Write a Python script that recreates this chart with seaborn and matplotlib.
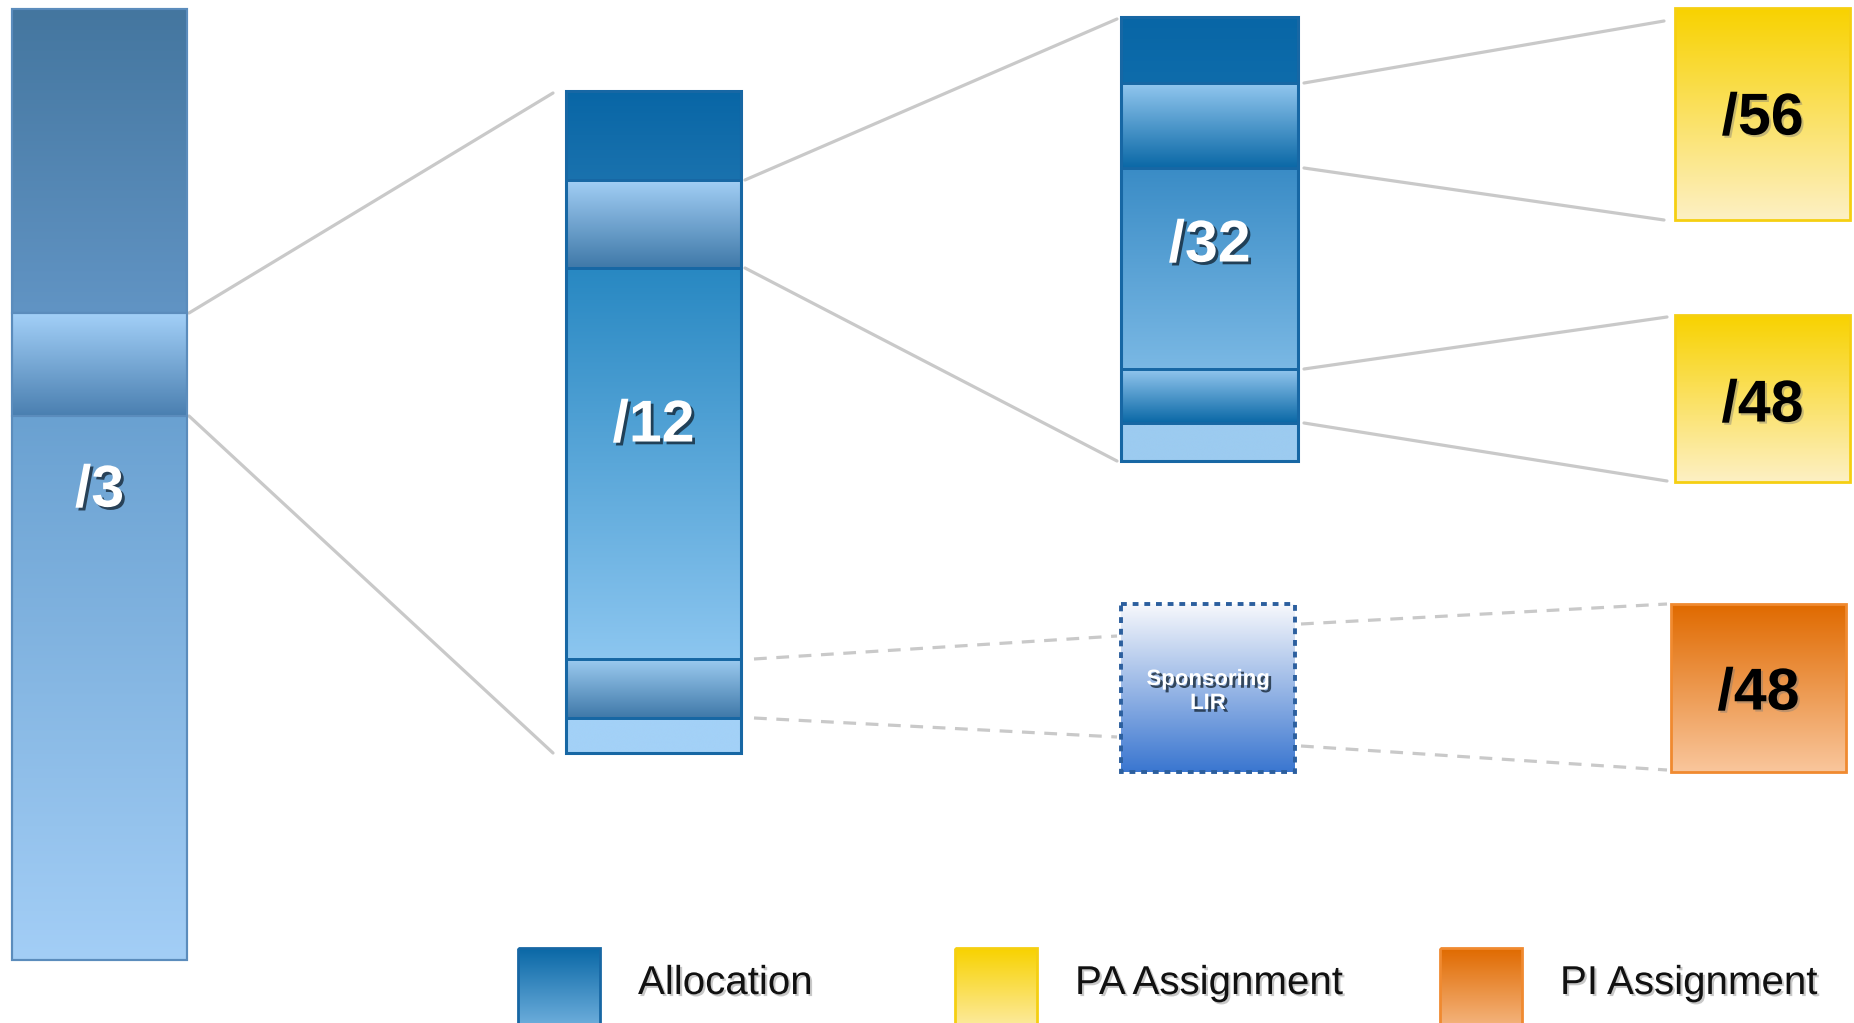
import numpy as np
import pandas as pd
import matplotlib.pyplot as plt
import matplotlib.patheffects as pe
import seaborn as sns
from matplotlib import font_manager
from matplotlib.colors import to_rgb
from matplotlib.patches import Rectangle

# --- diagram content ---
blue_prefixes = ["/3", "/12", "/32"]
pa_prefixes = ["/56", "/48"]
pi_prefixes = ["/48"]
sponsor_label = "Sponsoring\nLIR"
legend_labels = ["Allocation", "PA Assignment", "PI Assignment"]

# --- layout, in pixels of the 1854x1023 canvas ---
W, H = 1854, 1023
col_left = [12, 566, 1121]
col_right = [187, 741, 1298]
col_label_y = [485, 420, 240]
# column segments: (top, bottom, top colour, bottom colour, is_band)
col_segments = [
    [(9, 313, "#44769f", "#6194c4", False),
     (313, 416, "#a3d0f8", "#4a7fb0", True),
     (416, 960, "#6aa1d1", "#a3cef6", False)],
    [(91, 180, "#0866a6", "#1a72ae", False),
     (180, 268, "#a2cff5", "#3f78a8", True),
     (268, 659, "#2888c2", "#8cc6f0", False),
     (659, 718, "#9ccbf0", "#3f78a8", True),
     (718, 753, "#a3d1f7", "#a3d1f7", False)],
    [(17, 83, "#0866a6", "#0e6cab", False),
     (83, 168, "#92c7ef", "#0a68a6", True),
     (168, 369, "#3a8cc6", "#7ab8e4", False),
     (369, 423, "#92c6ee", "#0a68a6", True),
     (423, 461, "#9ccbf0", "#9ccbf0", False)],
]
pa_boxes = [(1675, 8, 1850, 220), (1675, 315, 1850, 482)]
pa_label_y = [113, 400]
pi_boxes = [(1671, 604, 1846, 772)]
pi_label_y = [688]
lir_box = (1121, 604, 1295, 772)
lir_baselines = [685, 709]
legend_x = [518, 955, 1440]
legend_box = (82, 948, 1045)

blue_grad = ("#0a68a6", "#86bfe9")
yellow_grad = ("#f8d200", "#fdf0c4")
orange_grad = ("#e06a00", "#f9c69c")
lir_grad = ("#f7f8fc", "#3a76d0")

LABEL_PT = 42.5
CAP_HALF = LABEL_PT * 100 / 72 * 0.729 / 2

fonts = {f.name for f in font_manager.fontManager.ttflist}
narrow = "Liberation Sans Narrow" in fonts
legend_family = ["Liberation Sans Narrow"] if narrow else ["Liberation Sans"]
legend_size = 34.5 if narrow else 29

sns.set_theme(style="white")
plt.rcParams["font.family"] = ["Liberation Sans", "DejaVu Sans"]

fig = plt.figure(figsize=(W / 100, H / 100), dpi=100)
ax = fig.add_axes([0, 0, 1, 1])


def gradient_box(l, t, r, b, c_top, c_bot, z=2):
    f = np.linspace(0, 1, 256)[:, None, None]
    img = np.array(to_rgb(c_top)) * (1 - f) + np.array(to_rgb(c_bot)) * f
    ax.imshow(img, extent=(l, r, b, t), aspect="auto",
              interpolation="bilinear", zorder=z)


def frame(l, t, r, b, ec, lw=2, ls="-", z=3):
    ax.add_patch(Rectangle((l, t), r - l, b - t, fill=False, ec=ec, lw=lw,
                           ls=ls, zorder=z))


white_fx = [pe.SimplePatchShadow(offset=(2, -2), shadow_rgbFace="#10202e", alpha=0.75),
            pe.Normal()]
dark_fx = [pe.SimplePatchShadow(offset=(1.5, -1.5), shadow_rgbFace="#777777", alpha=0.4),
           pe.Normal()]


def big_label(x, y, s, color, fx):
    ax.text(x, y + CAP_HALF, s, color=color, fontsize=LABEL_PT, fontweight="bold",
            ha="center", va="baseline", path_effects=fx, zorder=5)


# blue allocation columns
for i, segs in enumerate(col_segments):
    l, r = col_left[i], col_right[i]
    edge = "#5b8cbc" if i == 0 else "#1767a4"
    for top, bot, c0, c1, band in segs:
        gradient_box(l, top, r, bot, c0, c1)
        frame(l, top, r, bot, edge, lw=1.5 if i == 0 else 2)
    frame(l, segs[0][0], r, segs[-1][1], edge, lw=1.5 if i == 0 else 2.2)
    big_label((l + r) / 2, col_label_y[i], blue_prefixes[i], "white", white_fx)

# assignments
for (l, t, r, b), lab, y in zip(pa_boxes, pa_prefixes, pa_label_y):
    gradient_box(l, t, r, b, *yellow_grad)
    frame(l, t, r, b, "#f5cf12")
    big_label((l + r) / 2, y, lab, "black", dark_fx)
for (l, t, r, b), lab, y in zip(pi_boxes, pi_prefixes, pi_label_y):
    gradient_box(l, t, r, b, *orange_grad)
    frame(l, t, r, b, "#f08a30")
    big_label((l + r) / 2, y, lab, "black", dark_fx)

l, t, r, b = lir_box
gradient_box(l, t, r, b, *lir_grad)
frame(l, t, r, b, "#2c5f9e", lw=2.8, ls=(0, (1.5, 1.5)))
for line, y in zip(sponsor_label.split("\n"), lir_baselines):
    ax.text((l + r) / 2, y, line, fontsize=16, fontweight="bold", color="white",
            ha="center", va="baseline", path_effects=white_fx, zorder=5)

# connectors: from a band edge of one box to the edges of the next box
bands = [[s for s in segs if s[4]] for segs in col_segments]
links = [
    ("solid", col_right[0] + 2, bands[0][0][:2], col_left[1] - 13, (93, 753)),
    ("solid", col_right[1] + 4, bands[1][0][:2], col_left[2] - 4, (19, 461)),
    ("solid", col_right[2] + 6, bands[2][0][:2], pa_boxes[0][0] - 11, (21, pa_boxes[0][3])),
    ("solid", col_right[2] + 6, bands[2][1][:2], pa_boxes[1][0] - 8, (317, 481)),
    ("dashed", col_right[1] + 13, bands[1][1][:2], lir_box[0] - 4, (636, 737)),
    ("dashed", lir_box[2] + 6, (624, 746), pi_boxes[0][0] - 4, (pi_boxes[0][1], 770)),
]
rows = []
for k, (kind, x0, ys0, x1, ys1) in enumerate(links):
    for j in range(2):
        rows.append(dict(link=f"{k}{j}", kind=kind, x=x0, y=ys0[j]))
        rows.append(dict(link=f"{k}{j}", kind=kind, x=x1, y=ys1[j]))
df = pd.DataFrame(rows)
sns.lineplot(data=df, x="x", y="y", units="link", estimator=None, style="kind",
             dashes={"solid": "", "dashed": (4, 3)}, color="#c9c9c9", lw=2.3,
             sort=False, legend=False, ax=ax, zorder=1)

# legend
legend_grads = [blue_grad, yellow_grad, orange_grad]
legend_edges = ["#1767a4", "#f5cf12", "#f08a30"]
w, t, b = legend_box
for x, lab, g, ec in zip(legend_x, legend_labels, legend_grads, legend_edges):
    gradient_box(x, t, x + w, b, *g)
    frame(x, t, x + w, b, ec)
    ax.text(x + w + 38, 983, lab, fontsize=legend_size, family=legend_family,
            color="#111111", ha="left", va="center", path_effects=dark_fx, zorder=5)

ax.set_xlim(0, W)
ax.set_ylim(H, 0)
ax.axis("off")
fig.savefig("out.png", dpi=100, facecolor="white")
